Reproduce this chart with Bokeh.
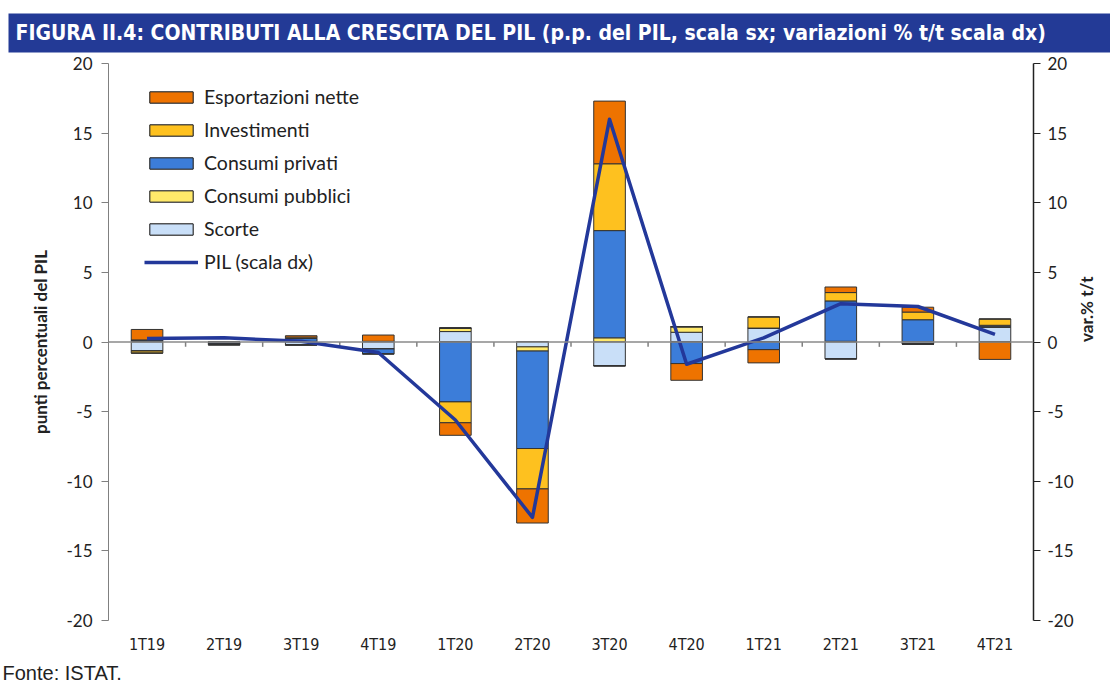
import math
from bokeh.plotting import figure
from bokeh.models import (ColumnDataSource, FactorRange, Range1d, LinearAxis, FixedTicker,
                          Span, Legend, LegendItem, Title)
from bokeh.transform import dodge
from bokeh.embed import file_html
from bokeh.resources import INLINE

# ---------------- data ----------------
cats = ["1T19", "2T19", "3T19", "4T19", "1T20", "2T20", "3T20", "4T20", "1T21", "2T21", "3T21", "4T21"]
esportazioni = [0.75, 0.0, 0.1, 0.45, -0.9, -2.45, 4.5, -1.2, -0.95, 0.4, 0.35, -1.25]
investimenti = [-0.15, 0.0, 0.1, 0.0, -1.5, -2.9, 4.8, 0.0, 0.8, 0.6, 0.55, 0.45]
consumi_privati = [0.1, -0.1, 0.2, -0.35, -4.3, -7.0, 7.7, -1.55, -0.55, 2.9, 1.6, 0.1]
consumi_pubblici = [0.05, 0.0, 0.05, 0.05, 0.25, -0.3, 0.3, 0.4, 0.0, 0.05, 0.0, 0.05]
scorte = [-0.65, -0.1, -0.2, -0.5, 0.75, -0.35, -1.7, 0.7, 1.0, -1.2, -0.15, 1.05]
pil = [0.25, 0.3, 0.05, -0.75, -5.6, -12.6, 16.0, -1.6, 0.3, 2.75, 2.55, 0.55]
y_ticks = [-20, -15, -10, -5, 0, 5, 10, 15, 20]
y_tick_labels = {t: str(t) for t in y_ticks}

series = [
    ("scorte", "Scorte", scorte, "#C9DFF8"),
    ("pubblici", "Consumi pubblici", consumi_pubblici, "#FFE96A"),
    ("privati", "Consumi privati", consumi_privati, "#3C7DD9"),
    ("investimenti", "Investimenti", investimenti, "#FEC11F"),
    ("esportazioni", "Esportazioni nette", esportazioni, "#EE7300"),
]

data = {"cat": cats, "pil": pil}
for key, _, vals, _ in series:
    data[key + "_pos"] = [max(v, 0.0) for v in vals]
    data[key + "_neg"] = [min(v, 0.0) for v in vals]
source = ColumnDataSource(data)

FONT = "Lato"
NARROW = "DejaVu Sans Condensed"

p = figure(x_range=FactorRange(*cats, range_padding=0, factor_padding=0),
           y_range=Range1d(-20, 20),
           width=1110, height=688, output_backend="svg", toolbar_location=None,
           min_border_left=108, min_border_right=75, min_border_top=63, min_border_bottom=68)
p.extra_y_ranges = {"pil": Range1d(-20, 20)}
p.outline_line_color = None
p.xgrid.grid_line_color = None
p.ygrid.grid_line_color = None
p.background_fill_color = "white"

# title bar
p.title = Title(text="FIGURA II.4: CONTRIBUTI ALLA CRESCITA DEL PIL (p.p. del PIL, scala sx; variazioni % t/t scala dx)",
                align="left", offset=-100, standoff=22,
                text_font=NARROW, text_font_style="bold", text_font_size="21px",
                text_color="white", background_fill_color="#233A96",
                padding=(7, 200, 7, 8))

# left axis
ya = p.yaxis[0]
ya.ticker = FixedTicker(ticks=y_ticks)
ya.major_label_overrides = y_tick_labels
ya.minor_tick_line_color = None
ya.major_tick_in = 0
ya.major_tick_out = 7
ya.axis_line_color = "#808080"
ya.major_tick_line_color = "#808080"
ya.major_label_text_font = FONT
ya.major_label_text_font_size = "17px"
ya.major_label_text_color = "#222222"
ya.major_label_standoff = 9
ya.axis_label = "punti percentuali del PIL"
ya.axis_label_text_font = FONT
ya.axis_label_text_font_style = "bold"
ya.axis_label_text_font_size = "17px"
ya.axis_label_text_color = "#222222"
ya.axis_label_standoff = 12

# right axis
ra = LinearAxis(y_range_name="pil", ticker=FixedTicker(ticks=y_ticks))
ra.major_label_overrides = y_tick_labels
ra.minor_tick_line_color = None
ra.major_tick_in = 0
ra.major_tick_out = 7
ra.axis_line_color = "#222222"
ra.axis_line_width = 1.5
ra.major_tick_line_color = "#222222"
ra.major_label_text_font = FONT
ra.major_label_text_font_size = "17px"
ra.major_label_text_color = "#222222"
ra.major_label_standoff = 7
ra.axis_label = "var.% t/t"
ra.axis_label_text_font = FONT
ra.axis_label_text_font_style = "bold"
ra.axis_label_text_font_size = "17px"
ra.axis_label_text_color = "#222222"
ra.axis_label_standoff = 10
try:
    ra.axis_label_orientation = math.pi / 2
except Exception:
    pass
p.add_layout(ra, "right")

# x axis
xa = p.xaxis[0]
xa.axis_line_color = None
xa.major_tick_line_color = None
xa.minor_tick_line_color = None
xa.major_label_text_font = NARROW
xa.major_label_text_font_size = "16px"
xa.major_label_text_color = "#222222"
xa.major_label_standoff = 8

# source note
p.add_layout(Title(text="Fonte: ISTAT.", align="left", offset=-106, standoff=6,
                   text_font="Liberation Sans", text_font_style="normal", text_font_size="20px",
                   text_color="#222222"), "below")

# zero line + category separator ticks
p.add_layout(Span(location=0, dimension="width", line_color="#8a8a8a", line_width=1.5))
tick_src = ColumnDataSource({"x": cats[:-1], "y0": [0] * (len(cats) - 1), "y1": [-0.35] * (len(cats) - 1)})
p.segment(x0=dodge("x", 0.5, range=p.x_range), x1=dodge("x", 0.5, range=p.x_range),
          y0="y0", y1="y1", source=tick_src, line_color="#808080", line_width=1.5)

# stacked bars
pos_keys = [k + "_pos" for k, _, _, _ in series]
neg_keys = [k + "_neg" for k, _, _, _ in series]
colors = [c for _, _, _, c in series]
pos_r = p.vbar_stack(pos_keys, x="cat", width=0.41, color=colors, source=source,
                     line_color="#333333", line_width=1)
neg_r = p.vbar_stack(neg_keys, x="cat", width=0.41, color=colors, source=source,
                     line_color="#333333", line_width=1)

# GDP line
line_r = p.line(x="cat", y="pil", source=source, y_range_name="pil",
                line_color="#23389A", line_width=3.5, line_join="round")

# legend
items = []
for i in reversed(range(len(series))):
    items.append(LegendItem(label=series[i][1], renderers=[pos_r[i], neg_r[i]]))
items.append(LegendItem(label="PIL (scala dx)", renderers=[line_r]))
legend = Legend(items=items, location=(36, 347), orientation="vertical",
                padding=0, margin=0, spacing=10, label_height=21,
                glyph_height=14, glyph_width=54, label_standoff=6,
                label_text_font=FONT, label_text_font_size="19.5px", label_text_color="#222222",
                background_fill_alpha=0, border_line_color=None)
p.add_layout(legend, "center")

open("out.html", "w").write(file_html(p, INLINE))
